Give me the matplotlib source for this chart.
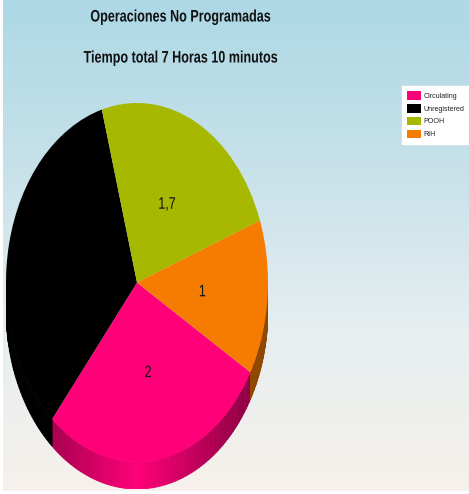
import numpy as np
import matplotlib
matplotlib.use("Agg")
import matplotlib.pyplot as plt
from matplotlib.colors import to_rgb, LinearSegmentedColormap
from matplotlib.patheffects import AbstractPathEffect
from matplotlib.transforms import Affine2D

# datos
categorias = ["Circulating", "Unregistered", "POOH", "RIH"]
horas = [2, 2.47, 1.7, 1]
etiquetas = ["2", "", "1,7", "1"]
colores = ["#FF0078", "#000000", "#A6B800", "#F57C00"]

titulo_1 = "Operaciones No Programadas"
titulo_2 = "Tiempo total 7 Horas 10 minutos"

W, H = 469, 494
ANGULO_INICIO = -30
PROFUNDIDAD = 0.15


class Estrecho(AbstractPathEffect):
    # la fuente del original va comprimida en horizontal
    def __init__(self, factor):
        super().__init__()
        self.factor = factor

    def draw_path(self, renderer, gc, tpath, affine, rgbFace=None):
        caja = tpath.get_extents(affine)
        cx = (caja.x0 + caja.x1) / 2
        extra = Affine2D().translate(-cx, 0).scale(self.factor, 1).translate(cx, 0)
        renderer.draw_path(gc, tpath, affine + extra, rgbFace)


plt.rcParams["font.family"] = ["Liberation Sans", "DejaVu Sans"]

fig = plt.figure(figsize=(W / 100, H / 100), dpi=100)
fig.patch.set_facecolor("white")

# fondo degradado
fondo = fig.add_axes([3 / W, 3 / H, (W - 3) / W, (H - 3) / H], zorder=0)
cmap = LinearSegmentedColormap.from_list("fondo", ["#ADD8E6", "#C6E1E9", "#E6EEF0", "#F6F1EB"])
fondo.imshow(np.linspace(0, 1, 256).reshape(-1, 1), aspect="auto", cmap=cmap)
fondo.axis("off")

# elipse de la cara superior: x 6-268, y 103-462
ax = fig.add_axes([6 / W, (H - 489) / H, 262 / W, 386 / H], zorder=1)
wedges, textos = ax.pie(
    horas,
    labels=etiquetas,
    colors=colores,
    startangle=ANGULO_INICIO,
    counterclock=False,
    labeldistance=0.5,
    radius=1,
    textprops={"fontsize": 12, "color": "#111111"},
)
for w in wedges:
    w.set_zorder(3)
for t in textos:
    t.set_zorder(4)
    t.set_ha("center")
    t.set_va("center")
    px, py = t.get_position()
    t.set_position((px, py - 0.009))
    t.set_path_effects([Estrecho(0.75)])

# canto lateral del pastel
fracciones = np.array(horas) / sum(horas)
bordes = ANGULO_INICIO - 360 * np.concatenate([[0], np.cumsum(fracciones)])
for i, color in enumerate(colores):
    th = np.linspace(bordes[i + 1], bordes[i], 80)
    base = np.array(to_rgb(color))
    for t0, t1 in zip(th[:-1], th[1:]):
        m = np.radians((t0 + t1) / 2) % (2 * np.pi)
        if m < np.pi:
            continue
        luz = 1 - 0.42 * min(abs(np.cos(m)) * 1.25, 1)
        tt = np.radians([t0, t1])
        xs = [np.cos(tt[0]), np.cos(tt[1]), np.cos(tt[1]), np.cos(tt[0])]
        ys = [np.sin(tt[0]), np.sin(tt[1]), np.sin(tt[1]) - PROFUNDIDAD, np.sin(tt[0]) - PROFUNDIDAD]
        ax.fill(xs, ys, facecolor=base * luz, edgecolor=base * luz, lw=0.6, zorder=2)

ax.set_aspect("auto")
ax.set_xlim(-1, 1)
ax.set_ylim(-1 - PROFUNDIDAD, 1)
ax.patch.set_alpha(0)

for y, titulo in [(17, titulo_1), (58, titulo_2)]:
    t = fig.text(180 / W, 1 - y / H, titulo, ha="center", va="center", fontsize=12,
                 fontweight="bold", color="#111111", zorder=5)
    t.set_path_effects([Estrecho(0.755)])

ley = fig.legend(
    wedges,
    categorias,
    loc="upper left",
    bbox_to_anchor=(402 / W, 1 - 86 / H),
    bbox_transform=fig.transFigure,
    fontsize=5.1,
    labelcolor="#222222",
    frameon=True,
    fancybox=False,
    edgecolor="white",
    facecolor="white",
    framealpha=1,
    borderaxespad=0,
    borderpad=0.75,
    labelspacing=0.6,
    handlelength=1.9,
    handleheight=1.45,
    handletextpad=0.35,
)
ley.set_zorder(6)

fig.savefig("out.png", dpi=100)
